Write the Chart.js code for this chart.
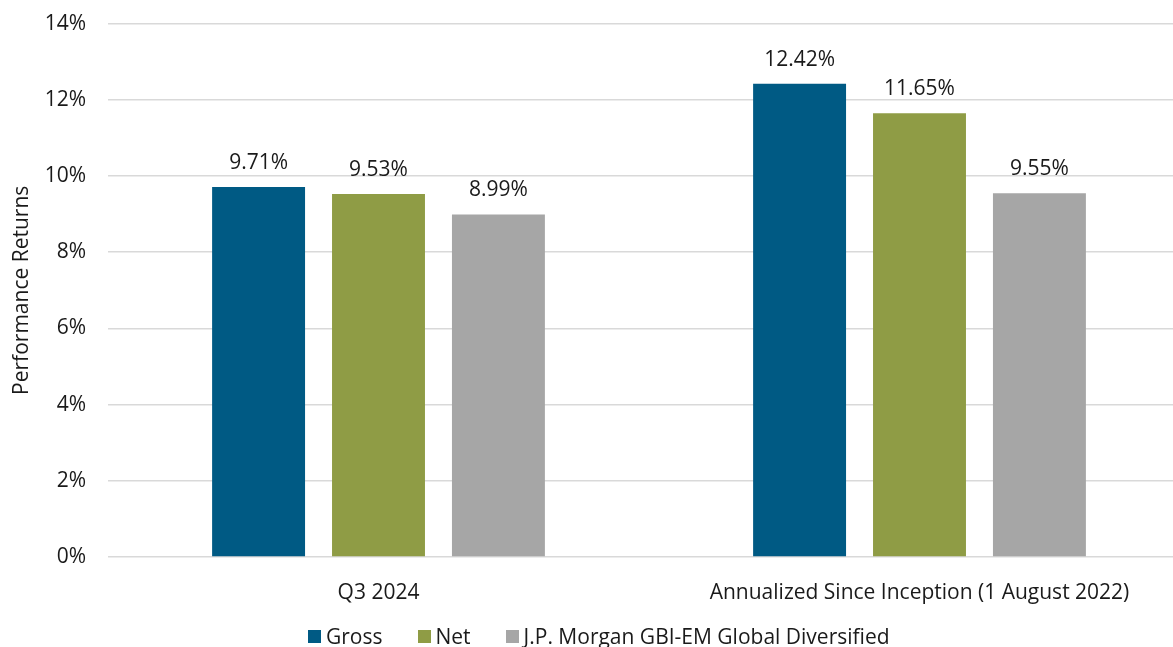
<!DOCTYPE html>
<html>
<head>
<meta charset="utf-8">
<script src="https://cdn.jsdelivr.net/npm/chart.js@4"></script>
<style>
  html, body { margin: 0; padding: 0; background: #fff; overflow: hidden; }
  #wrap { position: relative; width: 1190px; height: 647px; overflow: hidden; }
  #chartBox { position: absolute; left: 0; top: -11px; width: 1190px; height: 658px; }
  #legend {
    position: absolute; left: 308px; top: 622px;
    display: flex; align-items: center;
    font-family: "Open Sans", "Noto Sans", sans-serif; font-size: 21px; color: #1a1a1a;
    white-space: nowrap;
  }
  #legend .item { display: flex; align-items: center; margin-right: 35px; }
  #legend .box { width: 13px; height: 13px; margin-right: 5px; }
</style>
</head>
<body>
<div id="wrap">
  <div id="chartBox"><canvas id="perfChart"></canvas></div>
  <div id="legend"></div>
</div>
<script>
const categories = ['Q3 2024', 'Annualized Since Inception (1 August 2022)'];
const grossValues = [9.71, 12.42];
const netValues = [9.53, 11.65];
const benchmarkValues = [8.99, 9.55];
const seriesNames = ['Gross', 'Net', 'J.P. Morgan GBI-EM Global Diversified'];
const yTicks = [0, 2, 4, 6, 8, 10, 12, 14];

const fontFamily = '"Open Sans", "Noto Sans", sans-serif';
const textColor = '#1a1a1a';

// value labels above each bar
const barLabels = {
    id: 'barLabels',
    afterDatasetsDraw(chart) {
        const ctx = chart.ctx;
        ctx.save();
        ctx.font = '21px ' + fontFamily;
        ctx.fillStyle = textColor;
        ctx.textAlign = 'center';
        ctx.textBaseline = 'alphabetic';
        chart.data.datasets.forEach((ds, i) => {
            chart.getDatasetMeta(i).data.forEach((bar, j) => {
                ctx.fillText(ds.data[j].toFixed(2) + '%', bar.x, bar.y - 18);
            });
        });
        ctx.restore();
    }
};

const ctx = document.getElementById('perfChart').getContext('2d');
const chart = new Chart(ctx, {
    type: 'bar',
    data: {
        labels: categories,
        datasets: [
            { label: seriesNames[0], data: grossValues, backgroundColor: '#005a84' },
            { label: seriesNames[1], data: netValues, backgroundColor: '#8f9c45' },
            { label: seriesNames[2], data: benchmarkValues, backgroundColor: '#a6a6a6' }
        ]
    },
    options: {
        responsive: true,
        maintainAspectRatio: false,
        animation: false,
        datasets: {
            bar: { barPercentage: 0.775, categoryPercentage: 0.665 }
        },
        layout: { padding: { top: 12, left: 0, right: 0, bottom: 40 } },
        plugins: {
            legend: { display: false },
            tooltip: { enabled: false }
        },
        scales: {
            x: {
                afterFit(scale) { scale.height = 50; },
                grid: { display: false },
                border: { display: false },
                ticks: {
                    color: textColor,
                    padding: 15,
                    font: { family: fontFamily, size: 21 }
                }
            },
            y: {
                min: 0,
                max: 14,
                afterFit(scale) { scale.width = 108; },
                afterBuildTicks(scale) { scale.ticks = yTicks.map(v => ({ value: v })); },
                grid: { color: '#d9d9d9', lineWidth: 1.5, drawTicks: false },
                border: { display: false },
                title: {
                    display: true,
                    text: 'Performance Returns',
                    color: textColor,
                    font: { family: fontFamily, size: 21 },
                    padding: { top: 9, bottom: 0 }
                },
                ticks: {
                    color: textColor,
                    padding: 22,
                    font: { family: fontFamily, size: 21 },
                    callback: v => v + '%'
                }
            }
        }
    },
    plugins: [barLabels]
});

// html legend built from the chart's datasets
const legendEl = document.getElementById('legend');
chart.data.datasets.forEach(ds => {
    const item = document.createElement('div');
    item.className = 'item';
    const box = document.createElement('span');
    box.className = 'box';
    box.style.background = ds.backgroundColor;
    const label = document.createElement('span');
    label.textContent = ds.label;
    item.appendChild(box);
    item.appendChild(label);
    legendEl.appendChild(item);
});
</script>
</body>
</html>
